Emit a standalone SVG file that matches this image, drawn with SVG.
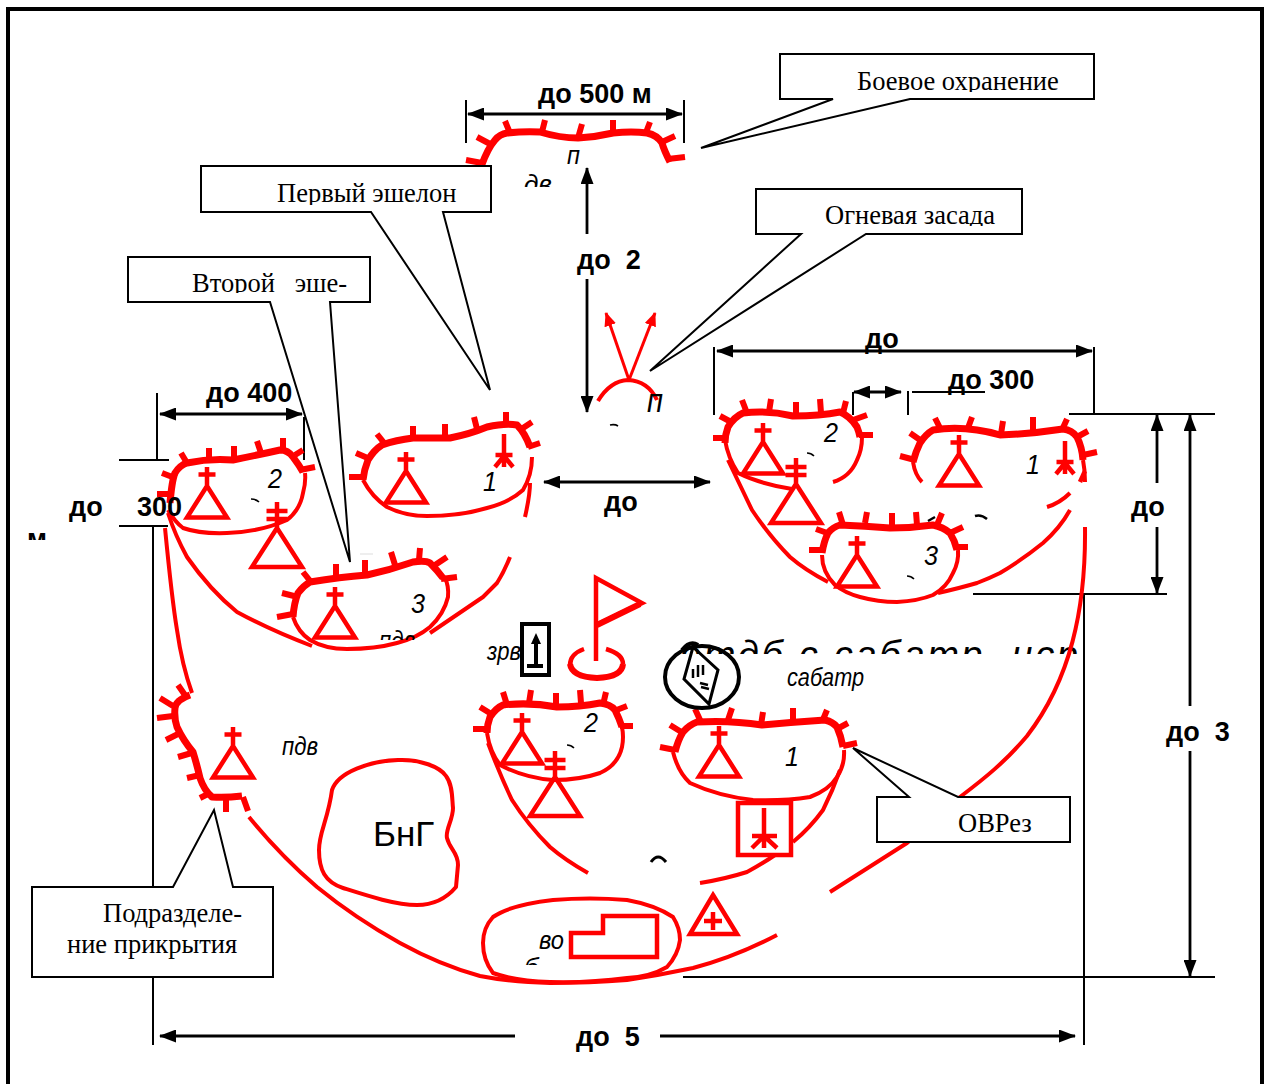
<svg xmlns="http://www.w3.org/2000/svg" width="1269" height="1084" viewBox="0 0 1269 1084">
<style>
.fr{fill:none;stroke:#000;stroke-width:4}
.k{fill:none;stroke:#000;stroke-width:2}
.d{fill:none;stroke:#000;stroke-width:2.8}
.box{fill:#fff;stroke:#000;stroke-width:2}
.r{fill:none;stroke:#f00;stroke-width:4;stroke-linejoin:round}
.th{fill:none;stroke:#f00;stroke-width:7;stroke-linejoin:round}
.tk{fill:none;stroke:#f00;stroke-width:6}
.s{fill:none;stroke:#f00;stroke-width:4.500}
.b{font-family:"Liberation Sans",Arial,sans-serif;font-weight:bold;font-size:27px;fill:#000;white-space:pre}
.i{font-family:"Liberation Sans",Arial,sans-serif;font-style:italic;font-size:26px;fill:#000}
.n{font-family:"Liberation Sans",Arial,sans-serif;font-style:italic;font-size:28px;fill:#000}
.t{font-family:"Liberation Serif","Times New Roman",serif;font-size:26.500px;fill:#000;white-space:pre}
.m{fill:none;stroke:#000;stroke-width:1.6}
</style>
<defs>
<marker id="a" markerUnits="userSpaceOnUse" markerWidth="17" markerHeight="13" refX="16" refY="6.500" orient="auto-start-reverse"><path d="M0,0L17,6.500L0,13Z" fill="#000"/></marker>
<marker id="ar" markerUnits="userSpaceOnUse" markerWidth="14" markerHeight="14" refX="13" refY="6" orient="auto"><path d="M0,0L14,6L0,12Z" fill="#f00"/></marker>
<g id="tank"><path class="s" d="M0,0L20,31.500H-20ZM0,0V-19M-8.500,-11.500H8.500"/></g>
<g id="tank2"><path class="s" d="M0,0L25,39H-25ZM0,0V-26M-10.500,-17H10.500M-10.500,-9H10.500"/></g>
<g id="star"><path class="s" d="M0,0V33M-8.500,21H8.500M0,22L-9,33M0,22L9,33"/></g>
<clipPath id="c1"><rect x="780" y="60" width="314" height="32"/></clipPath>
<clipPath id="c2"><rect x="201" y="170" width="290" height="35"/></clipPath>
<clipPath id="c3"><rect x="756" y="192" width="266" height="34"/></clipPath>
<clipPath id="c4"><rect x="128" y="260" width="242" height="33"/></clipPath>
<clipPath id="c5"><rect x="500" y="170" width="80" height="17"/></clipPath>
<clipPath id="c6"><rect x="370" y="620" width="60" height="20"/></clipPath>
<clipPath id="c7"><rect x="670" y="630" width="420" height="24"/></clipPath>
<clipPath id="c8"><rect x="510" y="950" width="40" height="15"/></clipPath>
<clipPath id="c9"><rect x="20" y="525" width="40" height="15"/></clipPath>
</defs>
<rect width="1269" height="1084" fill="#fff"/>
<path class="fr" d="M8,1084V9H1262V1084"/>

<g id="big-label"><text class="i" x="680" y="668" style="font-size:38px" clip-path="url(#c7)" textLength="398">отдб с сабатр. нср</text></g>

<g id="connectors">
<path class="k" d="M466,100V143M684,100V143M157,393V460M304,417V460M119,460H169M119,526H168M153,527V887M153,977V1045M714,347V415M853,392V415M908,391V415M912,392H985M1094,347V414M1069,414H1215M973,594H1167M683,977H1215M1084,594V1045"/>
<path class="d" marker-start="url(#a)" marker-end="url(#a)" d="M468,114H682"/>
<path class="d" marker-start="url(#a)" marker-end="url(#a)" d="M160,414H302"/>
<path class="d" marker-start="url(#a)" marker-end="url(#a)" d="M717,351H1092"/>
<path class="d" marker-start="url(#a)" marker-end="url(#a)" d="M854,392H901"/>
<path class="d" marker-start="url(#a)" marker-end="url(#a)" d="M544,482H710"/>
<path class="d" marker-start="url(#a)" d="M587,168V234"/>
<path class="d" marker-end="url(#a)" d="M587,279V412"/>
<path class="d" marker-start="url(#a)" d="M1157,415V483"/>
<path class="d" marker-end="url(#a)" d="M1157,527V593"/>
<path class="d" marker-start="url(#a)" d="M1190,415V706"/>
<path class="d" marker-end="url(#a)" d="M1190,751V976"/>
<path class="d" marker-start="url(#a)" d="M160,1036H515"/>
<path class="d" marker-end="url(#a)" d="M660,1036H1075"/>
<path d="M360,554H373" stroke="#ddd" stroke-width="1" fill="none"/>
<path class="r" d="M168,513Q175,535 187,557Q210,590 237,612Q270,630 312,646"/>
<path class="r" d="M165,528Q172,600 177,630Q182,665 192,693"/>
<path class="r" d="M525,517Q530,495 530,483M510,557Q504,572 497,583Q490,590 483,597L430,633"/>
<path class="r" d="M728,460Q740,485 752,510Q770,537 790,557Q805,570 828,582"/>
<path class="r" d="M1047,507Q1060,503 1070,493M1070,510Q1060,528 1043,543Q1022,560 1000,573Q990,578 977,583Q960,588 938,593"/>
<path class="r" d="M1085,527C1086,610 1070,680 1027,736C1005,762 985,778 960,797L907,843L830,892"/>
<path class="r" d="M249,817Q280,855 317,887Q355,918 400,943Q440,965 480,976Q510,982 550,983Q590,983 627,980Q660,975 693,968Q735,957 777,935"/>
<path class="r" d="M488,743Q500,775 512,800Q528,825 550,847Q565,860 588,873"/>
<path class="r" d="M840,770Q833,790 823,810Q810,828 793,842M775,855Q762,864 747,872Q725,879 700,883"/>
</g>

<g id="ambush"><path class="r" d="M598,401Q610,381 628,380Q648,381 657,400"/>
<path class="s" style="stroke-width:3" marker-end="url(#ar)" d="M629,380L606,313"/>
<path class="s" style="stroke-width:3" marker-end="url(#ar)" d="M629,380L655,313"/>
<text class="i" x="647" y="412" style="font-size:33px" textLength="16" lengthAdjust="spacingAndGlyphs">п</text><path class="m" d="M610,425Q615,424 618,426"/></g>

<g id="outpost">
<path class="th" d="M481.700,165Q488,148 495,140Q500,134 507,133Q525,131 540,132Q560,138 578,138Q596,137 613,133Q632,131 647,133Q657,135 662,143Q664,150 670,162"/>
<path class="tk" d="M466,160L482,163M477,137L492,145M505,121L510,133M545,120L542,132M582,124L578,138M613,120V133M650,122L645,135M675,136L662,142M685,157L668,159"/>
<text class="i" x="567" y="164" textLength="13" lengthAdjust="spacingAndGlyphs">п</text>
<text class="i" x="524" y="193" clip-path="url(#c5)">дв</text>
</g>

<g id="a2">
<path class="th" d="M170,503Q172,480 175,473Q180,465 187,463Q210,458 233,460Q258,455 280,450Q288,450 293,457Q299,465 303,472"/>
<path class="r" d="M168,510Q175,522 183,528Q200,534 227,533Q260,532 287,520Q300,510 303,493Q306,482 305,473"/>
<path class="tk" d="M157,494H172M162,473L175,478M181,453L187,463M209,448V460M234,446V460M257,441L261,453M283,438V450M303,450L295,455M315,467L300,470"/>
<use href="#tank" x="207" y="486"/><use href="#tank2" x="277" y="528"/>
<text class="n" x="268" y="488" textLength="14" lengthAdjust="spacingAndGlyphs">2</text><path class="m" d="M251,499Q256,499 259,502"/>
</g>
<g id="a1">
<path class="th" d="M363,480Q364,470 368,460Q374,450 382,445Q396,440 413,438Q430,438 450,438Q470,434 487,427Q505,423 517,425Q525,433 530,447"/>
<path class="r" d="M363,480Q372,497 387,507Q405,516 427,516Q460,516 487,508Q510,502 523,490Q532,475 532,457"/>
<path class="tk" d="M349,477H365M356,453L370,459M377,434L385,444M413,426V439M445,424V438M474,417L477,429M506,412V425M532,422L520,430M540,443L528,447"/>
<use href="#tank" x="406" y="471"/><use href="#star" x="504" y="434"/>
<text class="n" x="483" y="491" textLength="14" lengthAdjust="spacingAndGlyphs">1</text>
</g>
<g id="a3">
<path class="th" d="M293,617Q294,603 298,593Q303,586 310,582Q340,577 367,575Q390,570 413,562Q425,560 430,563Q437,570 443,578"/>
<path class="r" d="M293,617Q298,632 310,640Q325,649 347,649Q375,649 397,643Q417,638 430,627Q444,614 448,597Q449,586 445,578"/>
<path class="tk" d="M277,617L293,614M282,593L298,597M303,572L311,582M336,564V577M365,560V574M391,552L395,565M420,548L419,560M447,557L435,565M457,577L441,579"/>
<use href="#tank" x="335" y="606"/>
<text class="n" x="411" y="613" textLength="14" lengthAdjust="spacingAndGlyphs">3</text>
<text class="i" x="379" y="649" clip-path="url(#c6)" textLength="36" lengthAdjust="spacingAndGlyphs">пдв</text>
</g>
<g id="cover">
<path class="th" d="M190,695Q176,700 175,708Q174,718 177,727Q183,740 193,752Q197,765 200,778Q204,790 212,797Q225,798 242,796"/>
<path class="tk" d="M178,685L187,698M160,698L173,706M157,718L173,716M166,740L180,733M178,757L195,752M187,778L200,775M200,798L210,793M226,812V798M248,811L243,797"/>
<use href="#tank" x="233" y="746"/>
<text class="i" x="282" y="755" textLength="36" lengthAdjust="spacingAndGlyphs">пдв</text>
</g>
<g id="bng">
<path class="r" d="M398,760C420,759 440,767 446,776C453,785 452,800 453,808C453,820 445,830 447,838C450,850 458,852 458,865L456,887C445,900 430,905 417,905C395,905 365,895 343,888C325,882 319,870 319,850C319,832 328,820 332,790C338,772 370,761 398,760Z"/>
<text x="373" y="846" style="font-family:'Liberation Sans',Arial,sans-serif;font-size:35px">БнГ</text>
</g>
<g id="r2">
<path class="th" d="M725,443Q725,435 728,427Q734,417 743,413Q768,410 793,416Q820,416 840,412Q850,416 857,427Q859,432 860,437"/>
<path class="r" d="M725,440Q728,458 738,473Q760,484 792,489M833,482Q850,477 857,460Q862,450 862,437"/>
<path class="tk" d="M713,438H727M720,416L733,423M742,400L747,413M771,399L769,412M796,402V416M820,399L821,413M846,401L843,413M867,415L853,420M873,435H859"/>
<use href="#tank" x="763" y="442"/><use href="#tank2" x="796" y="484"/>
<text class="n" x="824" y="442" textLength="14" lengthAdjust="spacingAndGlyphs">2</text><path class="m" d="M807,453Q811,453 814,456"/>
</g>
<g id="r1">
<path class="th" d="M913,462Q916,451 920,443Q926,434 933,430Q965,425 1000,435Q1030,434 1063,429Q1072,430 1077,437Q1082,447 1083,460"/>
<path class="r" d="M913,462Q915,475 922,482M1083,460Q1085,470 1085,482"/>
<path class="s" d="M1085,471L1080,482"/>
<path class="tk" d="M900,456L915,460M910,433L923,442M935,418L941,430M972,417L968,428M1003,421L1001,434M1033,417V430M1067,419L1062,430M1088,431L1077,437M1097,452L1083,455"/>
<use href="#tank" x="959" y="454"/><use href="#star" x="1065" y="441"/>
<text class="n" x="1026" y="474" textLength="14" lengthAdjust="spacingAndGlyphs">1</text>
</g>
<g id="r3">
<path class="th" d="M822,553Q824,541 828,533Q833,527 840,525Q865,526 890,528Q912,528 933,525Q943,527 950,533Q955,541 957,550"/>
<path class="r" d="M822,555Q822,572 835,585Q845,593 860,597Q878,602 897,602Q918,601 933,595Q947,587 953,573Q959,562 958,550"/>
<path class="tk" d="M809,550H823M816,529L830,534M839,512L843,525M867,512L865,523M892,513V529M916,512L917,525M942,513L937,525M963,527L950,533M968,547H956"/>
<use href="#tank" x="857" y="555"/>
<text class="n" x="924" y="565" textLength="14" lengthAdjust="spacingAndGlyphs">3</text><path class="m" d="M907,576Q911,576 914,579"/>
<path class="m" style="stroke-width:2.500" d="M928,521L935,517M975,516Q981,514 987,519"/>
</g>
<g id="c2g">
<path class="th" d="M487,733Q487,725 490,717Q496,708 503,705Q530,702 557,707Q580,707 600,703Q610,704 615,710Q619,718 622,727"/>
<path class="r" d="M487,733Q490,752 500,765Q525,778 553,780Q580,780 600,773Q618,765 622,747Q624,737 622,727"/>
<path class="tk" d="M473,729H487M480,707L493,715M503,692L507,705M531,690L529,703M556,693V707M580,690L581,703M606,692L603,705M627,706L614,711M633,726H620"/>
<use href="#tank" x="522" y="732"/><use href="#tank2" x="555" y="777"/>
<text class="n" x="584" y="732" textLength="14" lengthAdjust="spacingAndGlyphs">2</text><path class="m" d="M567,745Q571,745 574,748"/>
</g>
<g id="c1g">
<path class="th" d="M675,752Q678,740 683,732Q689,725 697,722Q730,720 762,725Q795,722 825,720Q833,722 837,727Q841,736 843,747"/>
<path class="r" d="M673,752Q678,772 690,783Q718,796 753,800Q785,801 810,797Q829,790 837,777Q845,765 844,750"/>
<path class="tk" d="M660,747L675,750M670,725L683,733M695,709L701,722M732,708L728,720M763,712L761,725M793,708V720M827,710L822,722M848,723L837,729M857,743L843,746"/>
<use href="#tank" x="719" y="745"/>
<text class="n" x="785" y="766" textLength="14" lengthAdjust="spacingAndGlyphs">1</text>
<rect class="s" x="738" y="803" width="53" height="52"/>
<path class="s" d="M764,808V848M752,836H777M764,836L752,848M764,836L777,848"/>
</g>
<g id="flag">
<path class="s" d="M596,661V578L642,603L596,625"/>
<path class="s" style="stroke-width:6" d="M597,625L640,604"/>
<path class="s" d="M584,649Q570,654 570,665"/>
<path class="s" d="M606,649Q623,654 623,664"/>
<path class="s" style="stroke-width:6" d="M570,664Q572,677 597,678Q622,677 623,664"/>
</g>
<g id="observation">
<rect x="522" y="624" width="27" height="51" fill="none" stroke="#000" stroke-width="4"/>
<path d="M536,633L541,644H531Z" fill="#000"/><path d="M536,642V665M527,666H543" stroke="#000" stroke-width="4" fill="none"/>
<text class="i" x="487" y="660" textLength="34" lengthAdjust="spacingAndGlyphs">зрв</text>
</g>
<g id="commander">
<ellipse cx="702" cy="677" rx="37" ry="31" fill="none" stroke="#000" stroke-width="4"/>
<path d="M693,647L718,670L709,704L684,679Z" fill="none" stroke="#000" stroke-width="3"/>
<path d="M693,669V678M698,665V677M703,665V675M700,683L708,685M701,687L709,689" stroke="#000" stroke-width="2.500" fill="none"/>
<path d="M682,650Q690,640 698,645" stroke="#000" stroke-width="4" fill="none"/>
<text class="i" x="787" y="686" textLength="77" lengthAdjust="spacingAndGlyphs">сабатр</text>
</g>
<g id="rear">
<path class="r" d="M483,943Q483,928 493,917Q510,905 553,900Q590,897 627,900Q655,905 673,917Q680,928 680,940Q678,955 667,967Q650,977 627,978Q590,983 550,982Q515,981 493,973Q483,960 483,943Z"/>
<path class="s" d="M571,933H603V916H657V957H571Z"/>
<text class="i" x="539" y="949" textLength="25" lengthAdjust="spacingAndGlyphs">во</text>
<text class="i" x="524" y="976" clip-path="url(#c8)">б</text>
<path class="s" d="M713,895L737,934H690ZM713,912V930M704,921H722"/>
<path class="m" style="stroke-width:3" d="M651,862Q658,852 666,862"/>
</g>
<g id="dim-labels">
<text class="b" x="538" y="103">до 500 м</text>
<text class="b" x="577" y="269">до  2</text>
<text class="b" x="206" y="402">до 400</text>
<text class="b" x="69" y="516">до<tspan x="137">300</tspan></text>
<text class="b" x="27" y="548" clip-path="url(#c9)">м</text>
<text class="b" x="604" y="511">до</text>
<text class="b" x="865" y="348">до</text>
<text class="b" x="948" y="389">до 300</text>
<text class="b" x="1131" y="516">до</text>
<text class="b" x="1166" y="741">до  3</text>
<text class="b" x="576" y="1046">до  5</text>
</g>
<g id="call-1"><path class="box" d="M780,54H1094V99H910L701,148L833,99H780Z"/><text class="t" x="857" y="90" clip-path="url(#c1)">Боевое охранение</text></g>
<g id="call-2"><path class="box" d="M201,166H491V212H443L490,390L371,212H201Z"/><text class="t" x="277" y="202" clip-path="url(#c2)">Первый эшелон</text></g>
<g id="call-3"><path class="box" d="M756,189H1022V234H866L650,371L801,234H756Z"/><text class="t" x="825" y="224" clip-path="url(#c3)">Огневая засада</text></g>
<g id="call-4"><path class="box" d="M128,257H370V302H330L350,562L270,302H128Z"/><text class="t" x="192" y="292" clip-path="url(#c4)">Второй   эше-</text></g>
<g id="call-5"><path class="box" d="M32,887H173L214,810L233,887H273V977H32Z"/><text class="t" x="103" y="922">Подразделе-</text><text class="t" x="67" y="953">ние прикрытия</text></g>
<g id="call-6"><path class="box" d="M877,797H909L853,748L958,797H1070V842H877Z"/><text class="t" x="958" y="832">ОВРез</text></g>
</svg>
